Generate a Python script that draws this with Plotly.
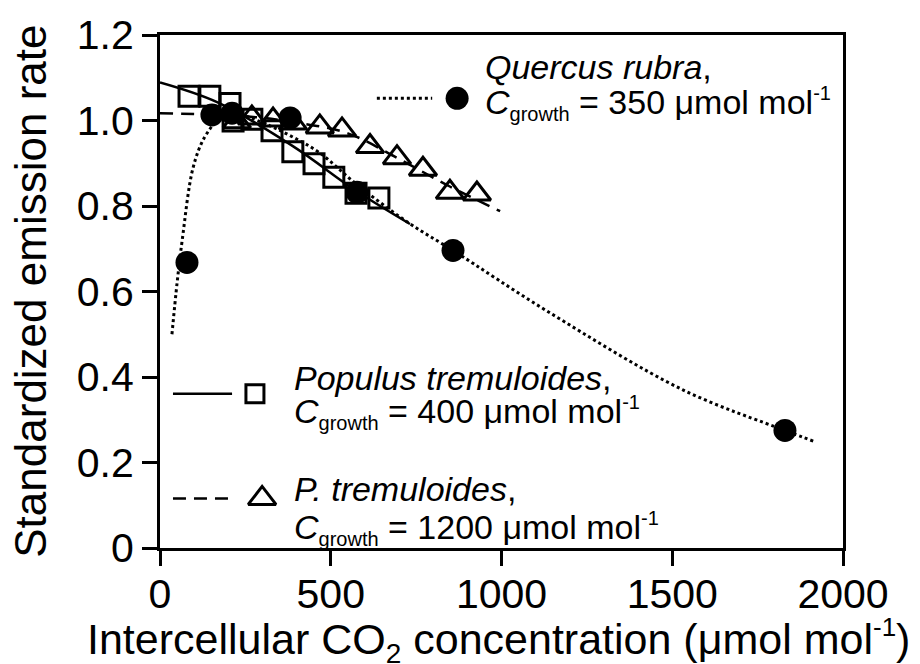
import plotly.graph_objects as go

# ---- data ----
quercus_x = [79, 152, 211, 381, 577, 858, 1830]
quercus_y = [0.668, 1.013, 1.017, 1.006, 0.832, 0.696, 0.275]

pop400_x = [85, 146, 205, 214, 269, 328, 389, 451, 509, 574, 641]
pop400_y = [1.057, 1.057, 1.040, 0.999, 1.003, 0.976, 0.927, 0.899, 0.867, 0.830, 0.819]

pop1200_x = [225, 269, 331, 389, 468, 533, 615, 694, 770, 849, 928]
pop1200_y = [0.997, 1.006, 1.001, 0.994, 0.985, 0.978, 0.939, 0.913, 0.886, 0.832, 0.828]

# fitted curves
quercus_fit_x = [35, 50, 65, 97, 130, 170, 220, 300, 380, 466, 583, 729, 858, 1142, 1531, 1830, 1920]
quercus_fit_y = [0.50, 0.62, 0.72, 0.89, 0.96, 1.0, 1.015, 0.995, 0.965, 0.925, 0.846, 0.76, 0.696, 0.55, 0.37, 0.275, 0.248]

pop400_fit_x = [0, 167, 389, 575, 732]
pop400_fit_y = [1.089, 1.043, 0.94, 0.835, 0.758]

pop1200_fit_x = [0, 250, 400, 550, 700, 850, 996]
pop1200_fit_y = [1.017, 1.01, 0.995, 0.97, 0.91, 0.845, 0.788]

x_ticks = [0, 500, 1000, 1500, 2000]
y_ticks = [0, 0.2, 0.4, 0.6, 0.8, 1.0, 1.2]
y_ticktext = ["0", "0.2", "0.4", "0.6", "0.8", "1.0", "1.2"]

FONT = "Liberation Sans, Arial, sans-serif"
BLACK = "black"

fig = go.Figure()

# fitted lines
fig.add_trace(go.Scatter(x=quercus_fit_x, y=quercus_fit_y, mode="lines", line_shape="spline",
                         line=dict(color=BLACK, width=3, dash="3px,3px"), showlegend=False))
fig.add_trace(go.Scatter(x=pop400_fit_x, y=pop400_fit_y, mode="lines", line_shape="spline",
                         line=dict(color=BLACK, width=2.5), showlegend=False))
fig.add_trace(go.Scatter(x=pop1200_fit_x, y=pop1200_fit_y, mode="lines", line_shape="spline",
                         line=dict(color=BLACK, width=2.5, dash="13px,8px"), showlegend=False))

# data points
fig.add_trace(go.Scatter(x=pop400_x, y=pop400_y, mode="markers",
                         marker=dict(symbol="square-open", size=20, color=BLACK, line=dict(width=3, color=BLACK)),
                         showlegend=False))
fig.add_trace(go.Scatter(x=pop1200_x, y=pop1200_y, mode="markers",
                         marker=dict(symbol="triangle-up-open", size=24, color=BLACK, line=dict(width=3, color=BLACK)),
                         showlegend=False))
fig.add_trace(go.Scatter(x=quercus_x, y=quercus_y, mode="markers",
                         marker=dict(symbol="circle", size=23, color=BLACK, line=dict(width=0)),
                         showlegend=False))

# ---- hand-made key ----
# Quercus
fig.add_trace(go.Scatter(x=[635, 797], y=[1.052, 1.052], mode="lines",
                         line=dict(color=BLACK, width=3, dash="3px,3px"), showlegend=False))
fig.add_trace(go.Scatter(x=[870], y=[1.052], mode="markers",
                         marker=dict(symbol="circle", size=23, color=BLACK), showlegend=False))
# Populus 400
fig.add_trace(go.Scatter(x=[38, 211], y=[0.361, 0.361], mode="lines",
                         line=dict(color=BLACK, width=2.5), showlegend=False))
fig.add_trace(go.Scatter(x=[278], y=[0.361], mode="markers",
                         marker=dict(symbol="square-open", size=18, color=BLACK, line=dict(width=3, color=BLACK)),
                         showlegend=False))
# Populus 1200
fig.add_trace(go.Scatter(x=[38, 211], y=[0.116, 0.116], mode="lines",
                         line=dict(color=BLACK, width=2.5, dash="13px,8px"), showlegend=False))
fig.add_trace(go.Scatter(x=[299], y=[0.116], mode="markers",
                         marker=dict(symbol="triangle-up-open", size=24, color=BLACK, line=dict(width=3, color=BLACK)),
                         showlegend=False))

KEY = 34
SUB = '<sub><span style="font-size:20px">growth</span></sub>'
SUP = '<sup><span style="font-size:20px">-1</span></sup>'

def key_text(x, y, text):
    fig.add_annotation(x=x, y=y, xref="x", yref="y", text=text, showarrow=False,
                       xanchor="left", yanchor="middle", font=dict(family=FONT, size=KEY, color=BLACK))

key_text(946, 1.126, "<i>Quercus rubra</i>,")
key_text(946, 1.040, "<i>C</i>" + SUB + " = 350 μmol mol" + SUP)
key_text(387, 0.398, "<i>Populus tremuloides</i>,")
key_text(387, 0.316, "<i>C</i>" + SUB + " = 400 μmol mol" + SUP)
key_text(387, 0.137, "<i>P. tremuloides</i>,")
key_text(387, 0.046, "<i>C</i>" + SUB + " = 1200 μmol mol" + SUP)

# axis titles
fig.add_annotation(x=0.495, y=-0.181, xref="paper", yref="paper", showarrow=False,
                   text='Intercellular CO<sub><span style="font-size:28px">2</span></sub> concentration (μmol mol<sup><span style="font-size:26px">-1</span></sup>)',
                   xanchor="center", yanchor="middle", font=dict(family=FONT, size=43, color=BLACK))
fig.add_annotation(x=-0.19, y=0.5, xref="paper", yref="paper", showarrow=False,
                   text="Standardized emission rate", textangle=-90,
                   xanchor="center", yanchor="middle", font=dict(family=FONT, size=44, color=BLACK))

axis_common = dict(showline=True, linewidth=3, linecolor=BLACK, mirror=True,
                   ticks="outside", ticklen=15, tickwidth=3, tickcolor=BLACK,
                   showgrid=False, zeroline=False,
                   tickfont=dict(family=FONT, size=41, color=BLACK))

fig.update_layout(
    width=920, height=664,
    margin=dict(l=160, r=77, t=29, b=116),
    paper_bgcolor="white", plot_bgcolor="white",
    xaxis=dict(range=[0, 2000], tickvals=x_ticks, ticktext=[str(v) for v in x_ticks],
               ticklabelstandoff=-7, **axis_common),
    yaxis=dict(range=[0, 1.2], tickvals=y_ticks, ticktext=y_ticktext, **axis_common),
    font=dict(family=FONT, color=BLACK),
)

fig.write_html("out.html")
